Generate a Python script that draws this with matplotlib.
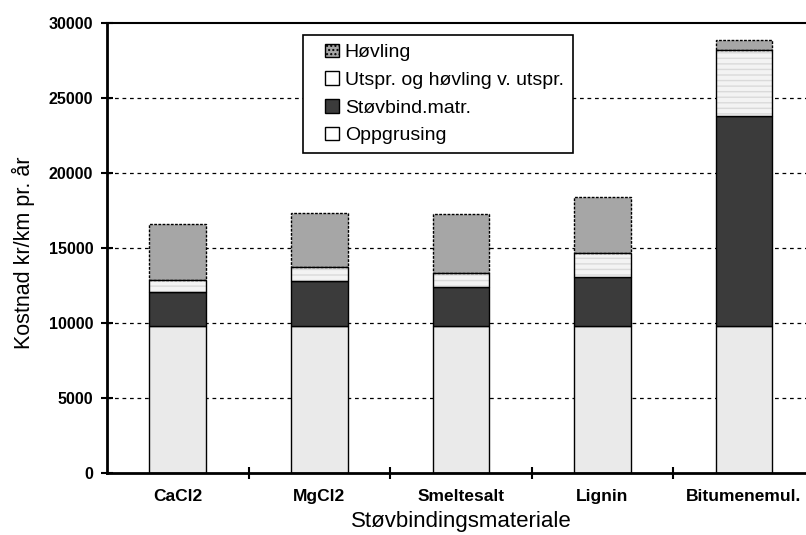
import numpy as np
import matplotlib
matplotlib.use("Agg")
import matplotlib.pyplot as plt
from matplotlib.patches import Patch, Rectangle
from matplotlib.legend_handler import HandlerPatch

plt.rcParams['font.family'] = ['Liberation Sans', 'DejaVu Sans']

# data (kr/km pr. år)
materialer = ['CaCl2', 'MgCl2', 'Smeltesalt', 'Lignin', 'Bitumenemul.']
oppgrusing = [9780, 9780, 9800, 9780, 9780]
stovbind = [2250, 3000, 2560, 3290, 13990]
utspr = [800, 950, 970, 1580, 4430]
hovling = [3780, 3600, 3900, 3750, 630]

x = np.arange(len(materialer))
w = 0.40

fig = plt.figure(figsize=(8.06, 5.35), dpi=100)
ax = fig.add_axes([0.1328, 0.1164, 0.878, 0.841])

for yv in [5000, 10000, 15000, 20000, 25000]:
    ax.axhline(yv, color='black', lw=0.9, ls=(0, (3, 3)), zorder=0)

b1 = np.array(oppgrusing)
b2 = b1 + np.array(stovbind)
b3 = b2 + np.array(utspr)

ax.bar(x, oppgrusing, w, color='#eaeaea', edgecolor='black', lw=1.0, zorder=2)
ax.bar(x, stovbind, w, bottom=b1, color='#3b3b3b', edgecolor='black', lw=1.0, zorder=2)
# faint line texture in the light segment, then its outline
ax.bar(x, utspr, w, bottom=b2, color='#f3f3f3', edgecolor='#dadada', lw=0,
       hatch='---', zorder=2)
ax.bar(x, utspr, w, bottom=b2, color='none', edgecolor='black', lw=1.0, zorder=3)
ax.bar(x, hovling, w, bottom=b3, color='#a6a6a6', edgecolor='black', lw=1.0,
       ls=(0, (2, 1)), zorder=2)

ax.set_xlim(-0.5, 4.5)
ax.set_ylim(0, 30000)
ax.set_yticks(np.arange(0, 30001, 5000))
ax.set_yticklabels([str(v) for v in range(0, 30001, 5000)], fontweight='bold', fontsize=11.5)
ax.tick_params(axis='y', direction='inout', length=8, width=1.5, pad=6)

ax.set_xticks(x)
ax.set_xticklabels(materialer, fontweight='bold', fontsize=12.5)
ax.tick_params(axis='x', which='major', length=0, pad=12)
ax.set_xticks(x[:-1] + 0.5, minor=True)
ax.tick_params(axis='x', which='minor', direction='inout', length=9, width=1.5)

for s in ['left', 'bottom']:
    ax.spines[s].set_linewidth(2)
ax.spines['top'].set_linewidth(1.5)
ax.spines['right'].set_visible(False)

ax.set_ylabel('Kostnad kr/km pr. år', fontsize=15.5)
ax.yaxis.set_label_coords(-0.102, 0.49)
ax.set_xlabel('Støvbindingsmateriale', fontsize=16, labelpad=5)


def small_box(legend, orig_handle, xdescent, ydescent, width, height, fontsize):
    # square handle pushed to the right end of the handle slot
    return Rectangle((width - height - xdescent, -ydescent), height, height)


handles = [
    Patch(facecolor='#a6a6a6', edgecolor='black', hatch='....', label='Høvling'),
    Patch(facecolor='white', edgecolor='black', label='Utspr. og høvling v. utspr.'),
    Patch(facecolor='#3b3b3b', edgecolor='black', label='Støvbind.matr.'),
    Patch(facecolor='white', edgecolor='black', label='Oppgrusing'),
]
leg = ax.legend(handles=handles, loc='upper left', bbox_to_anchor=(0.277, 0.973),
                borderaxespad=0, fancybox=False, edgecolor='black', fontsize=14,
                handlelength=1.4, handleheight=0.7, handletextpad=0.3,
                labelspacing=0.52, borderpad=0.45,
                handler_map={Patch: HandlerPatch(patch_func=small_box)})
leg.get_frame().set_linewidth(1.2)
leg.get_frame().set_alpha(1)

fig.savefig('out.png', dpi=100)
